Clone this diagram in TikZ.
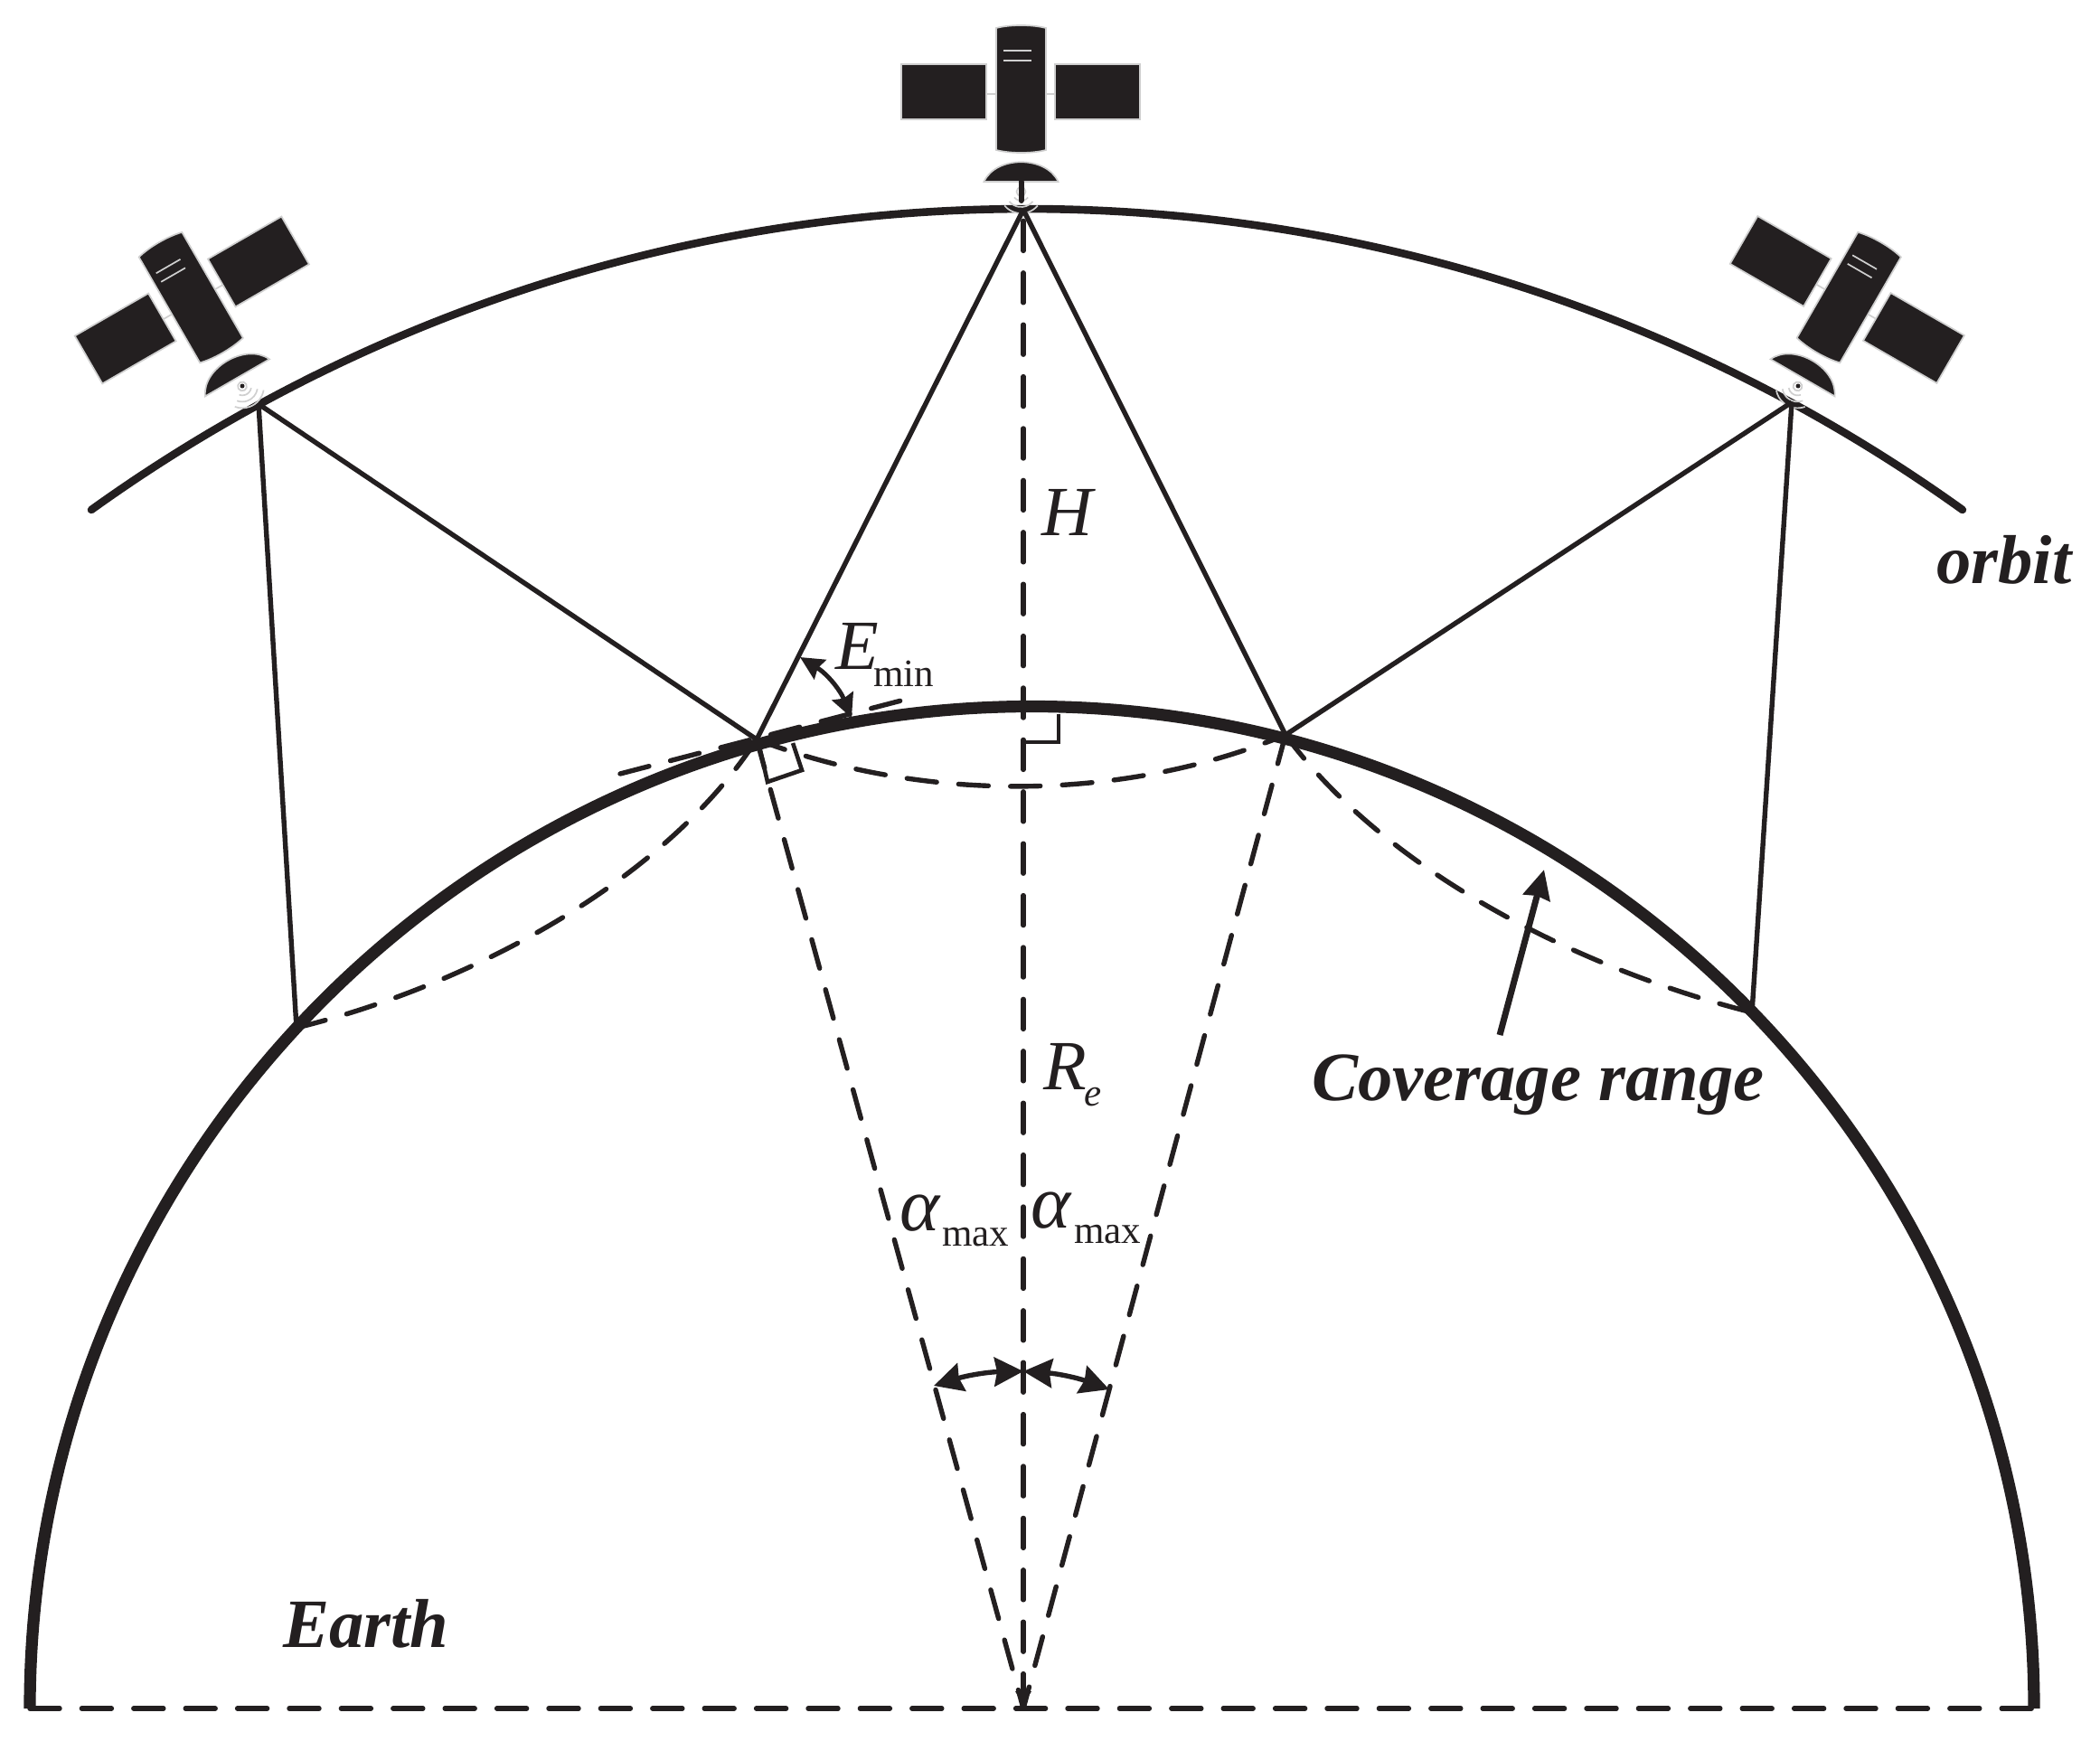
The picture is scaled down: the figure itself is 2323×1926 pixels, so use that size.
\documentclass[tikz,border=0pt]{standalone}
\usepackage{fontspec}
\setmainfont{Liberation Serif}
\usetikzlibrary{arrows.meta}
\definecolor{ink}{HTML}{231F20}
\definecolor{edgegray}{HTML}{CFCFCF}
\tikzset{
  earthline/.style={draw=ink,line width=6.6pt},
  orbitline/.style={draw=ink,line width=4.3pt,line cap=round},
  solidline/.style={draw=ink,line width=2.7pt},
  dashline/.style={draw=ink,line width=2.7pt,line cap=round,dash pattern=on 16.5pt off 12.2pt},
  markline/.style={draw=ink,line width=2.3pt,line join=miter},
  anglearrow/.style={draw=ink,line width=2.7pt,{Stealth[length=16pt,width=16pt,inset=1.5pt]}-{Stealth[length=16pt,width=16pt,inset=1.5pt]}},
  elevarrow/.style={draw=ink,line width=2.5pt,{Stealth[length=13pt,width=12.5pt,inset=1.5pt]}-{Stealth[length=13pt,width=12.5pt,inset=1.5pt]}},
  bigtext/.style={text=ink,inner sep=0pt,anchor=base west,font=\fontsize{38.3}{42}\selectfont\bfseries\itshape},
  mathtext/.style={text=ink,inner sep=0pt,anchor=base west,font=\fontsize{39}{42}\selectfont\itshape},
  alphatext/.style={text=ink,inner sep=0pt,anchor=base west,font=\fontsize{42}{46}\selectfont\itshape},
  subtext/.style={text=ink,inner sep=0pt,anchor=base west,font=\fontsize{21.5}{24}\selectfont},
  subitext/.style={text=ink,inner sep=0pt,anchor=base west,font=\fontsize{21.5}{24}\selectfont\itshape},
  satpart/.style={fill=ink,draw=edgegray,line width=0.85pt},
  satstroke/.style={draw=edgegray,line width=0.85pt},
  satellite/.pic={
    \draw[satstroke] (-38.5,-126) -- (37.5,-126);
    \path[satpart] (-132.5,-159) rectangle (-38.5,-98);
    \path[satpart] (37.5,-159) rectangle (131.5,-98);
    \path[satpart] (-27.5,-199) .. controls (-12,-203) and (12,-203) .. (27.5,-199) -- (27.5,-64) .. controls (12,-60) and (-12,-60) .. (-27.5,-64) -- cycle;
    \draw[satstroke] (-20,-174) -- (11,-174) (-20,-163) -- (11,-163);
    \path[satpart] (-41,-29) .. controls (-28,-58) and (28,-58) .. (41,-29) -- cycle;
    \draw[satstroke] (0,-18) circle[radius=5];
    \foreach \r in {10,17,24}{
      \draw[satstroke] ([shift={(40:\r)}]0,-18) arc[start angle=40,end angle=140,radius=\r];
    }
  }
}
\begin{document}
\begin{tikzpicture}[x=0.5pt,y=-0.5pt]
\useasboundingbox (0,0) rectangle (2323,1926);
\coordinate (T) at (1132,232);
\coordinate (SL) at (286,447);
\coordinate (SR) at (1982,445);
\coordinate (P1) at (837,818);
\coordinate (P2) at (1422,813);
\coordinate (L2) at (328,1137);
\coordinate (R2) at (1938,1120);
\coordinate (O) at (1132,1890);
\coordinate (EL) at (33,1890);
\coordinate (ER) at (2250,1890);
\coordinate (OL) at (101,564);
\coordinate (TA) at (686,856);
\coordinate (TB) at (997,775);
\coordinate (A1) at (1033,1533);
\coordinate (A2) at (1227,1537);
\coordinate (Am) at (1132,1517);
\coordinate (E1) at (885,727);
\coordinate (E2) at (942,794);
\coordinate (C1) at (1659,1145);
\coordinate (C2) at (1708,962);
\coordinate (Va) at (1132,1855);
% orbit and earth
\draw[orbitline] (OL) arc[start angle=234.33,end angle=305.67,radius=1775];
\draw[earthline] (EL) arc[start angle=180,end angle=360,radius=1108.5];
% satellites
\pic at (1129.5,230) {satellite};
\pic[rotate=30] at (277,443) {satellite};
\pic[rotate=-30] at (1979.5,443) {satellite};
\draw[draw=ink,line width=3pt,line cap=round] (1129.5,201) -- (1129.5,222);
\fill[ink] (268,427) circle[radius=2.5];
\fill[ink] (1989,427) circle[radius=2.5];
% solid rays
\draw[solidline] (T) -- (P1);
\draw[solidline] (T) -- (P2);
\draw[solidline] (SL) -- (P1);
\draw[solidline] (SL) -- (L2);
\draw[solidline] (SR) -- (P2);
\draw[solidline] (SR) -- (R2);
% dashed lines
\draw[dashline,dash phase=22.5pt] (T) -- (O);
\draw[dashline] (P1) -- (O);
\draw[dashline] (P2) -- (O);
\draw[dashline] (EL) -- (ER);
\draw[dashline] (TA) -- (TB);
\draw[dashline] (P1) .. controls (1020,888) and (1240,888) .. (P2);
\draw[dashline] (L2) .. controls (520,1090) and (735,975) .. (P1);
\draw[dashline] (P2) .. controls (1530,960) and (1740,1070) .. (R2);
% right angle marks
\draw[markline] (841,830) -- (849,865) -- (887,852) -- (877,822);
\draw[markline] (1171,790) -- (1171,821) -- (1132,821);
% arrows
\draw[anglearrow] (A1) to[bend left=8] (Am);
\draw[anglearrow] (A2) to[bend right=8] (Am);
\draw[elevarrow] (E1) to[bend left=18] (E2);
\draw[draw=ink,line width=3.5pt,-{Stealth[length=16pt,width=15pt,inset=1pt]}] (C1) -- (C2);
\draw[draw=ink,line width=2.7pt,-{Latex[length=9.5pt,width=9.5pt]}] (Va) -- (O);
% labels
\node[bigtext] (orbitlabel) at (2142,645) {orbit};
\node[bigtext] (coverage) at (1451,1217) {Coverage range};
\node[bigtext] (earthlabel) at (313,1822) {Earth};
\node[mathtext] (hlabel) at (1152,592) {H};
\node[mathtext] (elabel) at (924,740) {E};
\node[subtext] (emin) at (966,759) {min};
\node[mathtext] (rlabel) at (1154,1205) {R};
\node[subitext] (rsub) at (1199,1223) {e};
\node[alphatext] (a1) at (995,1361) {α};
\node[subtext] (a1s) at (1042,1378) {max};
\node[alphatext] (a2) at (1140,1358) {α};
\node[subtext] (a2s) at (1188,1375) {max};
\end{tikzpicture}
\end{document}
